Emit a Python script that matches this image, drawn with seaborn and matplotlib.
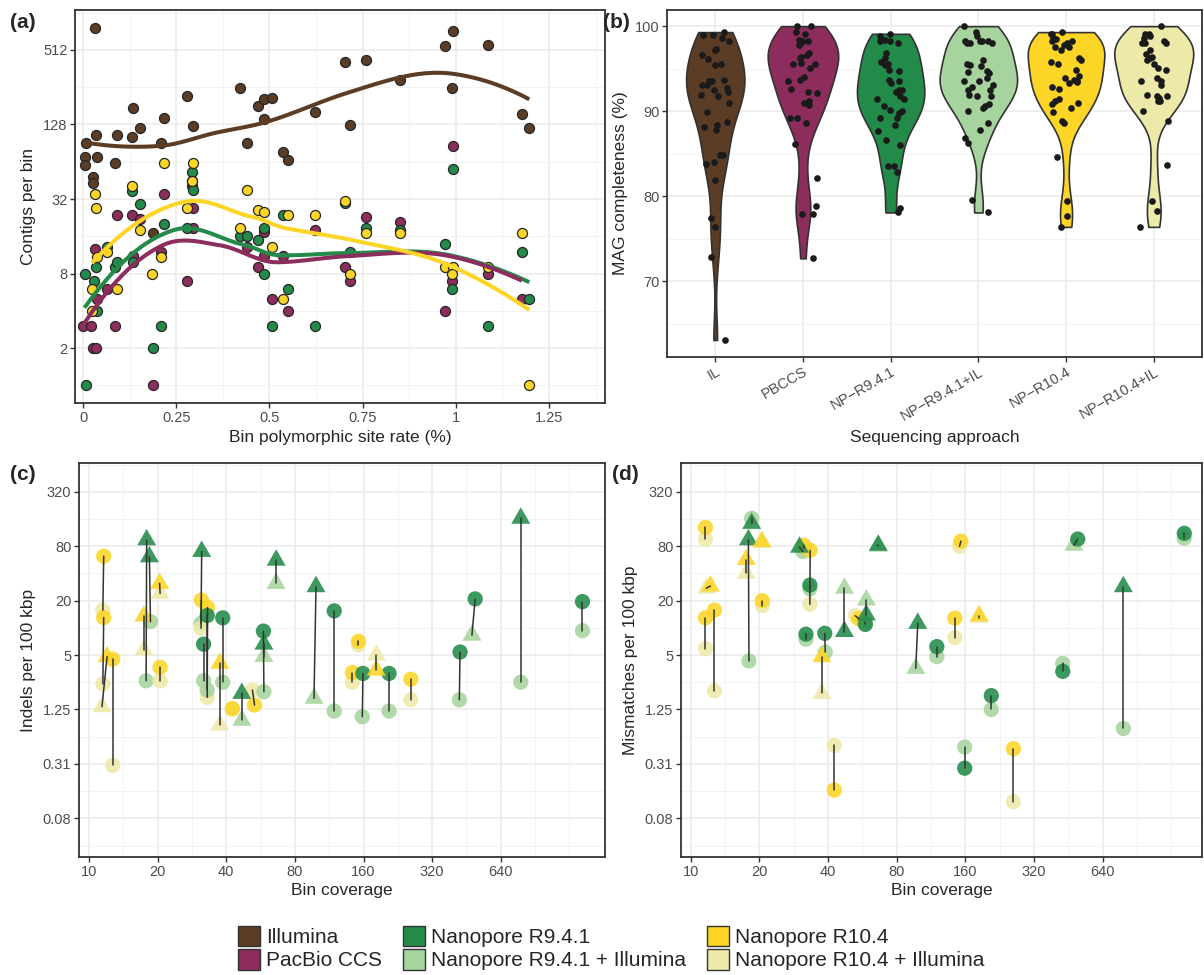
import numpy as np
import pandas as pd
import matplotlib
matplotlib.use("Agg")
import matplotlib.pyplot as plt
from matplotlib.patches import Patch
from matplotlib.markers import MarkerStyle
import seaborn as sns

# ---------------- datos ----------------
# (a) tasa de sitios polimórficos vs contigs por bin
a_il_x = [0.032, 0.008, 0.005, 0.005, 0.037, 0.034, 0.028, 0.026, 0.134, 0.090, 0.132, 0.154, 0.087,
          0.209, 0.218, 0.278, 0.294, 0.420, 0.440, 0.470, 0.485, 0.506, 0.485, 0.536, 0.551, 0.187,
          0.291, 0.291, 0.991, 0.972, 1.087, 0.703, 0.760, 0.851, 0.989, 0.622, 0.715, 1.177, 1.197]
a_il_y = [767, 90, 70, 60, 70, 105, 48, 43, 175, 105, 102, 119, 63, 91, 144, 218, 125, 254, 90, 181,
          205, 208, 141, 77, 66, 16.9, 45, 41, 734, 555, 566, 407, 425, 293, 251, 162, 127, 155, 119]
a_pb_x = [0.001, 0.022, 0.032, 0.028, 0.034, 0.037, 0.065, 0.087, 0.090, 0.132, 0.134, 0.154, 0.187,
          0.209, 0.218, 0.278, 0.294, 0.294, 0.440, 0.470, 0.485, 0.485, 0.506, 0.536, 0.551, 0.622,
          0.703, 0.715, 0.760, 0.851, 0.991, 0.972, 0.989, 1.087, 1.177]
a_pb_y = [3, 3, 12.7, 2, 2, 5, 6, 3, 24, 24, 11, 22, 1, 12, 35, 7, 27, 18.8, 13, 9, 17.3, 11, 5, 11, 4,
          18, 9, 7, 23, 21, 85, 4, 7, 8, 5]
a_r9_x = [0.004, 0.008, 0.030, 0.035, 0.037, 0.065, 0.087, 0.090, 0.132, 0.134, 0.154, 0.187, 0.209,
          0.218, 0.278, 0.291, 0.294, 0.420, 0.440, 0.470, 0.485, 0.485, 0.506, 0.536, 0.551, 0.622,
          0.703, 0.715, 0.760, 0.851, 0.972, 0.991, 0.989, 1.087, 1.177, 1.197]
a_r9_y = [8, 1, 7, 9.1, 4, 13, 9.1, 10, 37, 10, 29, 2, 3, 20, 18.8, 53, 38, 16, 16, 15, 18.8, 8, 3, 24,
          6, 3, 30, 12, 18.8, 18, 14, 56, 6, 3, 12, 5]
a_r10_x = [0.032, 0.034, 0.037, 0.025, 0.024, 0.065, 0.090, 0.132, 0.154, 0.185, 0.209, 0.218, 0.278,
           0.294, 0.291, 0.420, 0.440, 0.470, 0.485, 0.506, 0.536, 0.551, 0.622, 0.703, 0.760, 0.851,
           0.972, 0.991, 0.989, 1.087, 1.177, 1.197, 0.715]
a_r10_y = [35, 27, 10.9, 6, 4, 12, 6, 41, 18, 8, 10.9, 63, 27, 62, 45, 18.8, 38, 26, 25, 13, 5, 24, 24,
           31, 17, 17, 9, 9, 8, 9, 17, 1, 8]

# (b) completitud de MAGs (%)
b_orden = ['IL', 'PBCCS', 'NP−R9.4.1', 'NP−R9.4.1+IL', 'NP−R10.4', 'NP−R10.4+IL']
b_il = [99.0, 99.3, 99.0, 98.6, 98.2, 97.3, 97.2, 96.6, 96.1, 95.4, 95.6, 93.7, 93.6, 93.1, 93.5, 92.7,
        93.1, 92.5, 92.2, 91.9, 91.8, 91.0, 89.9, 88.4, 88.7, 88.2, 87.8, 84.8, 84.8, 84.0, 83.8, 81.9,
        77.5, 76.4, 72.9, 63.1]
b_pb = [100, 100, 99.1, 99.3, 98.1, 97.8, 98.2, 98.4, 98.2, 96.8, 96.2, 95.6, 95.6, 95.1, 95.7, 96.4,
        96.6, 94.0, 93.7, 93.6, 92.6, 91.2, 91.0, 90.7, 92.1, 92.2, 89.2, 89.2, 88.6, 86.2, 82.1, 78.9,
        77.9, 77.9, 72.7]
b_r9 = [98.9, 98.4, 98.3, 98.0, 99.1, 98.2, 96.8, 96.2, 95.4, 95.8, 95.6, 94.9, 94.7, 93.5, 93.3, 93.7,
        92.5, 92.5, 92.3, 91.8, 91.4, 91.4, 90.0, 90.6, 90.2, 89.8, 89.2, 89.2, 88.4, 87.7, 86.6, 86.0,
        83.6, 83.6, 82.8, 78.6, 78.1]
b_r9il = [100, 99.3, 98.8, 98.2, 98.2, 98.2, 98.2, 98.0, 98.0, 98.0, 96.0, 95.6, 95.4, 95.3, 94.6, 94.7,
          94.5, 93.5, 93.6, 93.9, 93.1, 92.8, 92.5, 92.5, 91.8, 91.9, 91.8, 90.6, 90.8, 90.0, 90.4, 88.6,
          87.8, 86.3, 86.8, 79.6, 78.1]
b_r10 = [99.1, 99.1, 99.3, 98.6, 98.5, 98.2, 98.0, 98.2, 97.8, 97.5, 97.2, 97.6, 96.2, 96.0, 95.6, 95.8,
         94.9, 94.1, 93.9, 93.7, 93.4, 93.3, 93.5, 92.9, 92.6, 91.4, 91.2, 91.0, 90.8, 90.4, 89.9, 88.9,
         88.6, 84.6, 79.5, 77.7, 76.4]
b_r10il = [100, 98.6, 99.1, 99.1, 98.9, 98.0, 98.0, 98.2, 98.0, 97.2, 96.7, 96.4, 96.0, 95.6, 94.9, 96.2,
           95.1, 93.9, 93.5, 93.5, 93.1, 91.8, 91.8, 91.9, 91.6, 91.2, 91.2, 90.0, 88.8, 83.7, 79.5, 78.3,
           76.4]

# (c) indels y (d) mismatches: pares de puntos unidos por bin
c_par = [1, 1, 2, 2, 3, 3, 4, 4, 5, 5, 6, 6, 7, 7, 8, 8, 9, 9, 10, 10, 11, 11, 12, 12, 13, 13, 14, 14,
         15, 15, 16, 16, 17, 17, 18, 18, 19, 19, 20, 20, 21, 21, 22, 22, 23, 23, 24, 24, 25, 25, 26, 26,
         27, 27, 28, 28, 29, 29, 30, 30, 31, 31, 32, 32, 33, 33, 34, 34]
c_app = ['R10', 'R10IL', 'R10', 'R10IL', 'R10', 'R10IL', 'R10', 'R10IL', 'R9', 'R9IL', 'R9', 'R9IL',
         'R10', 'R10IL', 'R10', 'R10IL', 'R10', 'R10IL', 'R9', 'R9IL', 'R10', 'R10IL', 'R10', 'R10IL',
         'R9', 'R9IL', 'R9', 'R9IL', 'R9', 'R9IL', 'R10', 'R10IL', 'R10', 'R10IL', 'R9', 'R9IL',
         'R10', 'R10IL', 'R9', 'R9IL', 'R9', 'R9IL', 'R9', 'R9IL', 'R9', 'R9IL', 'R9', 'R9IL',
         'R10', 'R10IL', 'R10', 'R10IL', 'R9', 'R9IL', 'R10', 'R10IL', 'R9', 'R9IL', 'R10', 'R10IL',
         'R9', 'R9IL', 'R9', 'R9IL', 'R9', 'R9IL', 'R9', 'R9IL']
c_forma = ['o', 'o', 'o', 'o', '^', '^', 'o', 'o', '^', 'o', '^', 'o', '^', '^', '^', '^', 'o', 'o',
           '^', 'o', 'o', 'o', 'o', 'o', 'o', 'o', 'o', 'o', 'o', 'o', '^', '^', 'o', 'o', '^', '^',
           'o', 'o', 'o', 'o', '^', '^', '^', '^', '^', '^', 'o', 'o', 'o', 'o', 'o', 'o', 'o', 'o',
           '^', '^', 'o', 'o', 'o', 'o', 'o', 'o', 'o', '^', '^', 'o', 'o', 'o']
c_cov = [11.6, 11.5, 11.6, 11.5, 12.0, 11.4, 12.7, 12.7, 17.9, 17.8, 18.4, 18.6, 17.4, 17.4, 20.4, 20.5,
         20.5, 20.5, 31.2, 31.0, 31.1, 31.0, 33.1, 33.0, 33.0, 33.0, 31.8, 31.8, 38.6, 38.6, 37.5, 37.5,
         42.5, 42.5, 46.8, 46.8, 53.2, 52.1, 58.2, 58.5, 58.5, 58.5, 66.2, 66.2, 99, 97, 119, 119,
         152, 152, 143, 143, 159, 158, 182, 182, 207, 207, 258, 258, 424, 421, 494, 478, 783, 783,
         1460, 1460]
c_val = [62, 15.7, 13, 2.4, 4.8, 1.34, 4.5, 0.30, 94, 2.6, 61, 11.7, 13.5, 5.7, 31, 24, 3.66, 2.6,
         70, 11.2, 20.3, 9.9, 16.8, 1.7, 13.7, 2.05, 6.6, 2.6, 12.9, 2.5, 4.05, 0.84, 1.28, 1.25,
         1.88, 0.95, 1.4, 2.05, 9.2, 1.96, 6.6, 4.8, 56, 31, 28.5, 1.66, 15.4, 1.2, 7.1, 6.5, 3.2, 2.5,
         3.13, 1.04, 3.4, 5.0, 3.13, 1.2, 2.7, 1.6, 5.4, 1.6, 20.9, 8.3, 163, 2.5, 19.5, 9.3]

d_par = c_par
d_app = ['R10', 'R10IL', 'R10', 'R10IL', 'R10', 'R10IL', 'R10', 'R10IL', 'R9', 'R9IL', 'R9', 'R9IL',
         'R10', 'R10IL', 'R10', 'R10IL', 'R10', 'R10IL', 'R10', 'R10IL', 'R10', 'R10IL', 'R9', 'R9IL',
         'R9', 'R9IL', 'R9', 'R9IL', 'R9', 'R9IL', 'R10', 'R10IL', 'R10', 'R10IL', 'R9', 'R9IL',
         'R10', 'R10IL', 'R9', 'R9IL', 'R9', 'R9IL', 'R9', 'R9IL', 'R9', 'R9IL', 'R9', 'R9IL',
         'R10', 'R10IL', 'R10', 'R10IL', 'R10', 'R10IL', 'R9', 'R9IL', 'R9', 'R9IL', 'R10', 'R10IL',
         'R9', 'R9IL', 'R9', 'R9IL', 'R9', 'R9IL', 'R9', 'R9IL']
d_forma = ['o', 'o', '^', '^', 'o', 'o', 'o', 'o', '^', 'o', '^', 'o', '^', '^', '^', '^', 'o', 'o',
           'o', 'o', 'o', 'o', '^', 'o', 'o', 'o', 'o', 'o', 'o', 'o', '^', '^', 'o', 'o', '^', '^',
           'o', 'o', '^', '^', 'o', 'o', '^', '^', '^', '^', 'o', 'o', 'o', 'o', 'o', 'o', '^', '^',
           'o', 'o', 'o', 'o', 'o', 'o', 'o', 'o', 'o', '^', '^', 'o', 'o', 'o']
d_cov = [11.6, 11.6, 12.2, 11.7, 11.6, 11.6, 12.7, 12.7, 18.5, 18.5, 17.9, 18.0, 20.5, 20.5, 17.5, 17.5,
         20.6, 20.6, 31.3, 31.4, 33.4, 33.3, 30.0, 31.0, 33.3, 33.3, 32.0, 32.0, 38.7, 38.9, 37.6, 37.6,
         42.6, 42.6, 47.2, 47.2, 54.6, 52.7, 58.9, 58.9, 58.3, 58.3, 66.4, 66.4, 99, 97, 120, 120,
         153, 151, 144, 144, 184, 184, 208, 208, 159, 159, 260, 260, 428, 428, 498, 479, 789, 789,
         1460, 1460]
d_val = [129, 96, 29, 27.4, 12.9, 5.9, 15.7, 2.0, 143, 163, 94, 4.3, 90, 88, 57, 40, 20, 17.6,
         82, 76, 72, 18.2, 78, 70, 29.7, 27, 8.5, 7.5, 8.7, 5.4, 4.8, 1.88, 0.16, 0.50, 9.1, 27.4,
         12.6, 13.6, 13.9, 20.3, 10.9, 11.5, 82, 80, 11.2, 3.56, 6.2, 4.8, 91, 80, 12.8, 7.8, 13.6, 13.0,
         1.78, 1.25, 0.28, 0.48, 0.46, 0.119, 3.3, 4.05, 96, 82, 28.5, 0.77, 111, 98]

# etiquetas y escalas
a_xticks = [0, 0.25, 0.5, 0.75, 1, 1.25]
a_xlabels = ['0', '0.25', '0.5', '0.75', '1', '1.25']
a_yticks = [2, 8, 32, 128, 512]
cd_xticks = [10, 20, 40, 80, 160, 320, 640]
cd_yticks = [0.078125, 0.3125, 1.25, 5, 20, 80, 320]
cd_ylabels = ['0.08', '0.31', '1.25', '5', '20', '80', '320']

leyenda = ['Illumina', 'PacBio CCS', 'Nanopore R9.4.1', 'Nanopore R9.4.1 + Illumina',
           'Nanopore R10.4', 'Nanopore R10.4 + Illumina']
colores = ['#5B3C25', '#8C2D5D', '#238B4A', '#A7D49E', '#FCD527', '#EDE9A9']
pal_cd = {'R9': colores[2], 'R9IL': colores[3], 'R10': colores[4], 'R10IL': colores[5]}

# ---------------- estilo ----------------
sns.set_theme(style="white")
plt.rcParams['font.family'] = ['Liberation Sans', 'DejaVu Sans']

W, H = 1204, 975
fig = plt.figure(figsize=(W / 100, H / 100), dpi=100)


def caja(l, t, r, b):
    return [l / W, 1 - b / H, (r - l) / W, (b - t) / H]


def estilo(ax):
    ax.set_axisbelow(True)
    ax.grid(which='major', color='#EBEBEB', lw=1.1)
    ax.grid(which='minor', color='#F1F1F1', lw=0.6)
    for s in ax.spines.values():
        s.set_color('#333333')
        s.set_linewidth(1.3)
        s.set_visible(True)
    ax.tick_params(which='major', length=3.5, width=1, color='#333333', labelcolor='#4D4D4D',
                   labelsize=10.5, pad=2, bottom=True, left=True)
    ax.tick_params(which='minor', length=0)


def loess(x, y, n_out=80, span=0.75, cell=0.2):
    # loess local cuadrático con pesos tricúbicos, superficie interpolada en vértices kd (como R)
    x = np.asarray(x, float)
    y = np.asarray(y, float)
    n = len(x)
    q = int(np.floor(n * span))

    def ajuste(x0):
        d = np.abs(x - x0)
        h = np.sort(d)[q - 1]
        w = np.clip(1 - (d / h) ** 3, 0, None) ** 3
        coef = np.polyfit(x - x0, y, 2, w=np.sqrt(w))
        return coef[2], coef[1]

    fc = int(np.floor(n * span * cell))
    lo, hi = x.min(), x.max()
    marg = 0.005 * (hi - lo)
    verts = [lo - marg, hi + marg]

    def dividir(a, b):
        pts = np.sort(x[(x >= a) & (x <= b)])
        if len(pts) <= fc:
            return
        m = (len(pts) - 1) // 2
        v = (pts[m] + pts[m + 1]) / 2
        if v <= a or v >= b:
            return
        verts.append(v)
        dividir(a, v)
        dividir(v, b)

    dividir(verts[0], verts[1])
    verts = np.sort(verts)
    fv = np.array([ajuste(v) for v in verts])
    xs = np.linspace(lo, hi, n_out)
    ys = []
    for x0 in xs:
        i = min(np.searchsorted(verts, x0, side='right') - 1, len(verts) - 2)
        h = verts[i + 1] - verts[i]
        t = (x0 - verts[i]) / h
        h00 = 2 * t ** 3 - 3 * t ** 2 + 1
        h10 = t ** 3 - 2 * t ** 2 + t
        h01 = -2 * t ** 3 + 3 * t ** 2
        h11 = t ** 3 - t ** 2
        ys.append(h00 * fv[i, 0] + h10 * h * fv[i, 1] + h01 * fv[i + 1, 0] + h11 * h * fv[i + 1, 1])
    return xs, np.array(ys)


def nrd0(kde):
    d = kde.dataset[0]
    sd = d.std(ddof=1)
    iqr = np.subtract(*np.percentile(d, [75, 25]))
    h = 0.9 * min(sd, iqr / 1.34) * len(d) ** -0.2
    return h / sd


# ---------------- (a) ----------------
ax_a = fig.add_axes(caja(75, 10, 605, 403))
series_a = [(a_il_x, a_il_y, colores[0]), (a_pb_x, a_pb_y, colores[1]),
            (a_r9_x, a_r9_y, colores[2]), (a_r10_x, a_r10_y, colores[4])]
for xs, ys, col in series_a:
    sns.scatterplot(x=xs, y=np.log2(ys), color=col, s=52, edgecolor='#262626', linewidth=0.9,
                    ax=ax_a, zorder=3)
for idx in [0, 2, 1, 3]:
    xs, ys, col = series_a[idx]
    lx, ly = loess(xs, np.log2(ys))
    ax_a.plot(lx, ly, color=col, lw=2.9, solid_capstyle='butt', zorder=4)
ax_a.set_xlim(-0.0215, 1.40)
ax_a.set_ylim(-0.47, 10.07)
ax_a.set_xticks(a_xticks, a_xlabels)
ax_a.set_xticks(np.arange(0.125, 1.4, 0.25), minor=True)
ax_a.set_yticks(np.log2(a_yticks), [str(v) for v in a_yticks])
ax_a.set_yticks(np.arange(0, 11, 2), minor=True)
estilo(ax_a)
ax_a.set_xlabel('Bin polymorphic site rate (%)', fontsize=12.5, labelpad=4)
ax_a.set_ylabel('Contigs per bin', fontsize=12.5, labelpad=5)

# ---------------- (b) ----------------
ax_b = fig.add_axes(caja(667, 10, 1202, 357))
df_b = pd.concat([pd.DataFrame({'metodo': m, 'compl': v})
                  for m, v in zip(b_orden, [b_il, b_pb, b_r9, b_r9il, b_r10, b_r10il])])
sns.violinplot(data=df_b, x='metodo', y='compl', hue='metodo', order=b_orden, hue_order=b_orden,
               palette=colores, saturation=1, cut=0, density_norm='area', common_norm=True,
               width=0.9, inner=None, linewidth=1.2, linecolor='#333333', bw_method=nrd0,
               legend=False, ax=ax_b)
np.random.seed(7)
sns.stripplot(data=df_b, x='metodo', y='compl', order=b_orden, color='#1A1A1A', size=4.8,
              jitter=0.17, linewidth=0, ax=ax_b, zorder=5)
ax_b.set_xlim(-0.55, 5.55)
ax_b.set_ylim(61.1, 101.9)
ax_b.set_yticks([70, 80, 90, 100])
ax_b.set_yticks([65, 75, 85, 95], minor=True)
estilo(ax_b)
ax_b.tick_params(axis='x', labelrotation=30)
for t in ax_b.get_xticklabels():
    t.set_ha('right')
    t.set_rotation_mode('anchor')
ax_b.set_xlabel('Sequencing approach', fontsize=12.5, labelpad=5)
ax_b.set_ylabel('MAG completeness (%)', fontsize=12.5, labelpad=5)

# ---------------- (c) y (d) ----------------
s_circ = 121
s_tri = 250
triangulo = MarkerStyle([(-1, -0.577), (1, -0.577), (0, 1.155)])


def panel_pares(ax, cov, val, app, forma, par, ylab, xlim):
    df = pd.DataFrame({'cov': np.log2(cov), 'val': np.log2(val), 'app': app,
                       'forma': forma, 'par': par})
    for grupo in [['R9IL', 'R10IL'], ['R9', 'R10']]:
        sub = df[df['app'].isin(grupo)]
        sns.scatterplot(data=sub[sub['forma'] == 'o'], x='cov', y='val', hue='app', palette=pal_cd,
                        s=s_circ, marker='o', alpha=0.88, linewidth=0, legend=False, ax=ax)
        sns.scatterplot(data=sub[sub['forma'] == '^'], x='cov', y='val', hue='app', palette=pal_cd,
                        s=s_tri, marker=triangulo, alpha=0.88, linewidth=0, legend=False, ax=ax)
    sns.lineplot(data=df, x='cov', y='val', units='par', estimator=None, sort=False,
                 color='#333333', lw=1.1, ax=ax)
    ax.set_xlim(*xlim)
    ax.set_ylim(-5.10, 9.38)
    ax.set_xticks(np.log2(cd_xticks), [str(v) for v in cd_xticks])
    ax.set_xticks(np.log2(10) + np.array([0.5, 1.5, 2.5, 3.5, 4.5, 5.5, 6.5, 7]), minor=True)
    ax.set_yticks(np.log2(cd_yticks), cd_ylabels)
    ax.set_yticks(np.log2(5) + np.arange(-7, 8, 2), minor=True)
    estilo(ax)
    ax.set_xlabel('Bin coverage', fontsize=12.5, labelpad=3)
    ax.set_ylabel(ylab, fontsize=12.5, labelpad=5)


ax_c = fig.add_axes(caja(79, 463, 605, 857))
panel_pares(ax_c, c_cov, c_val, c_app, c_forma, c_par, 'Indels per 100 kbp', (3.176, 10.84))
ax_d = fig.add_axes(caja(681, 463, 1202, 857))
panel_pares(ax_d, d_cov, d_val, d_app, d_forma, d_par, 'Mismatches per 100 kbp', (3.18, 10.77))

# etiquetas de panel
for txt, x, y in [('(a)', 10, 22), ('(b)', 603, 22), ('(c)', 10, 474), ('(d)', 612, 474)]:
    fig.text(x / W, 1 - y / H, txt, fontsize=15, fontweight='bold', va='center', ha='left')

# leyenda común
handles = [Patch(facecolor=c, edgecolor='#333333', lw=1.0) for c in colores]
fig.legend(handles, leyenda, loc='center', bbox_to_anchor=(611 / W, 1 - 948 / H), ncol=3,
           frameon=False, fontsize=15, handlelength=1.05, handleheight=1.15, handletextpad=0.3,
           columnspacing=1.0, labelspacing=0.1)

fig.savefig('out.png', dpi=100)
